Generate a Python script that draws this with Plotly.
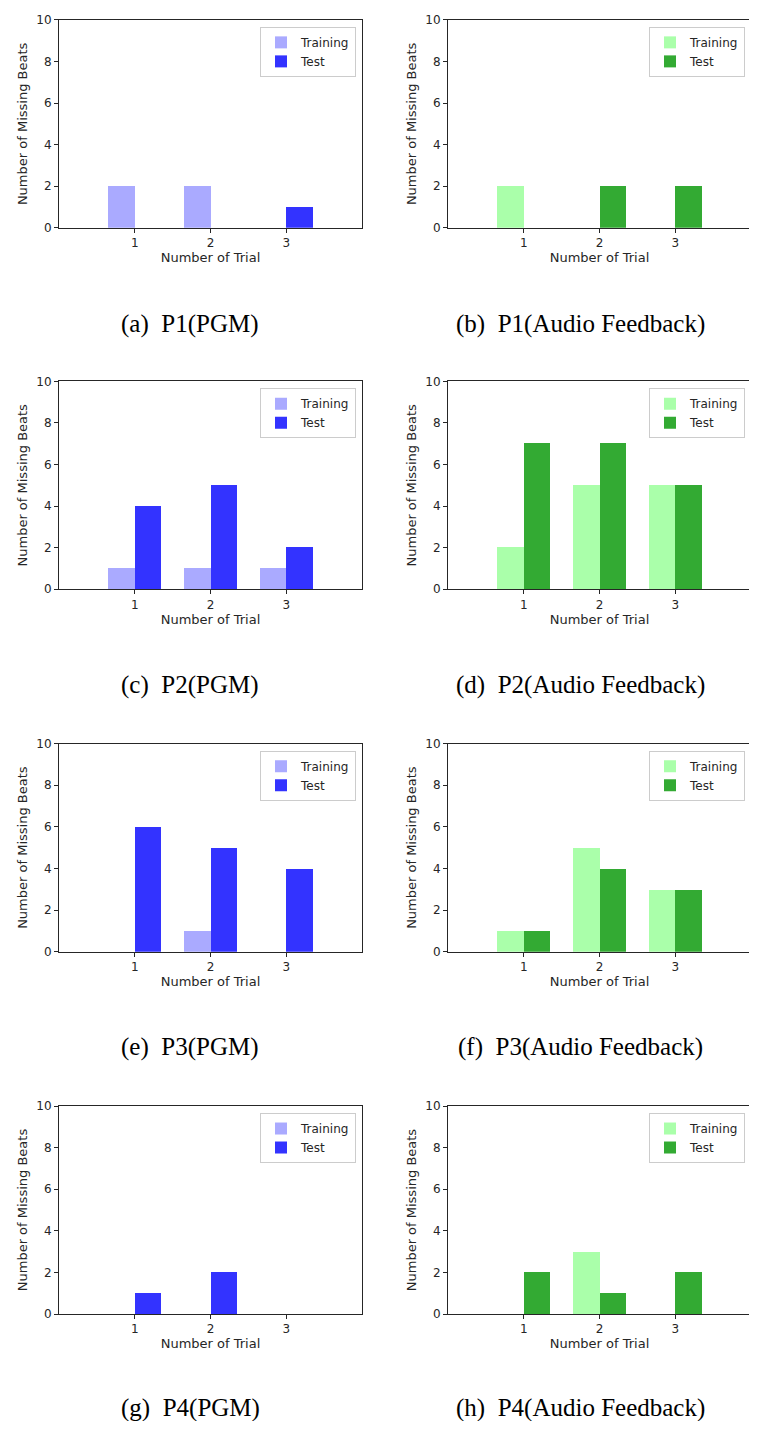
import plotly.graph_objects as go

PAGE_W, PAGE_H = 757, 1429
OFF = 8  # default body margin of the html page
W, H = PAGE_W - OFF, PAGE_H - 2 * OFF

trials = [1, 2, 3]
tick_labels = ["1", "2", "3"]

p1_pgm_training = [2, 2, 0]
p1_pgm_test = [0, 0, 1]
p1_audio_training = [2, 0, 0]
p1_audio_test = [0, 2, 2]

p2_pgm_training = [1, 1, 1]
p2_pgm_test = [4, 5, 2]
p2_audio_training = [2, 5, 5]
p2_audio_test = [7, 7, 5]

p3_pgm_training = [0, 1, 0]
p3_pgm_test = [6, 5, 4]
p3_audio_training = [1, 5, 3]
p3_audio_test = [1, 4, 3]

p4_pgm_training = [0, 0, 0]
p4_pgm_test = [1, 2, 0]
p4_audio_training = [0, 3, 0]
p4_audio_test = [2, 1, 2]

captions = [
    "(a)  P1(PGM)", "(b)  P1(Audio Feedback)",
    "(c)  P2(PGM)", "(d)  P2(Audio Feedback)",
    "(e)  P3(PGM)", "(f)  P3(Audio Feedback)",
    "(g)  P4(PGM)", "(h)  P4(Audio Feedback)",
]

panels = [
    (p1_pgm_training, p1_pgm_test), (p1_audio_training, p1_audio_test),
    (p2_pgm_training, p2_pgm_test), (p2_audio_training, p2_audio_test),
    (p3_pgm_training, p3_pgm_test), (p3_audio_training, p3_audio_test),
    (p4_pgm_training, p4_pgm_test), (p4_audio_training, p4_audio_test),
]

blue = ("#aaaaff", "#3333ff")
green = ("#aaffaa", "#33aa33")

# page-pixel layout (converted to figure coords by subtracting OFF)
col_x = [(59, 362), (448, 751)]
row_top = [13, 378, 744, 1110]
plot_h = 210
caption_y = [320, 685, 1050, 1415]
caption_x = [190, 580]


def px(v):
    return min(max((v - OFF) / W, 0), 1)


def py(v):
    return min(max(1 - (v - OFF) / H, 0), 1)


tick_font = dict(family="DejaVu Sans", size=12, color="#262626")
title_font = dict(family="DejaVu Sans", size=13, color="#262626")

fig = go.Figure()
layout = dict(
    width=W, height=H, margin=dict(l=0, r=0, t=0, b=0),
    plot_bgcolor="white", paper_bgcolor="white",
    showlegend=True, bargap=0, annotations=[],
)

for i, (train, test) in enumerate(panels):
    r, c = divmod(i, 2)
    colors = blue if c == 0 else green
    n = i + 1
    xa = "x" if n == 1 else f"x{n}"
    ya = "y" if n == 1 else f"y{n}"
    lg = "legend" if n == 1 else f"legend{n}"
    fig.add_trace(go.Bar(
        x=trials, y=train, width=0.35, offset=-0.35, name="Training",
        marker=dict(color=colors[0], line=dict(width=0)),
        xaxis=xa, yaxis=ya, legend=lg,
    ))
    fig.add_trace(go.Bar(
        x=trials, y=test, width=0.35, offset=0, name="Test",
        marker=dict(color=colors[1], line=dict(width=0)),
        xaxis=xa, yaxis=ya, legend=lg,
    ))
    x0, x1 = col_x[c]
    top = row_top[r]
    bot = top + plot_h
    xkey = "xaxis" if n == 1 else f"xaxis{n}"
    ykey = "yaxis" if n == 1 else f"yaxis{n}"
    layout[xkey] = dict(
        domain=[px(x0), px(x1)], anchor=ya, range=[0, 4],
        tickmode="array", tickvals=trials, ticktext=tick_labels,
        ticks="outside", ticklen=4, tickcolor="#262626",
        showline=True, mirror=True, linecolor="#262626", linewidth=1,
        showgrid=False, zeroline=False, tickfont=tick_font,
        title=dict(text="Number of Trial", font=title_font, standoff=3),
        fixedrange=True,
    )
    layout[ykey] = dict(
        domain=[py(bot), py(top)], anchor=xa, range=[0, 10],
        tickmode="linear", tick0=0, dtick=2,
        ticks="outside", ticklen=4, tickcolor="#262626",
        showline=True, mirror=True, linecolor="#262626", linewidth=1,
        showgrid=False, zeroline=False, tickfont=tick_font,
        title=dict(text="Number of Missing Beats", font=title_font, standoff=5),
        fixedrange=True,
    )
    layout[lg] = dict(
        x=px(x1 - 6), xanchor="right", y=py(top + 7), yanchor="top",
        bgcolor="white", bordercolor="#cccccc", borderwidth=1,
        font=tick_font, tracegroupgap=0, itemsizing="constant",
    )
    layout["annotations"].append(dict(
        text=captions[i], xref="paper", yref="paper",
        x=px(caption_x[c]), y=py(caption_y[r]),
        xanchor="center", yanchor="middle", showarrow=False,
        font=dict(family="Liberation Serif", size=25, color="black"),
    ))

fig.update_layout(**layout)
fig.write_html("out.html")
